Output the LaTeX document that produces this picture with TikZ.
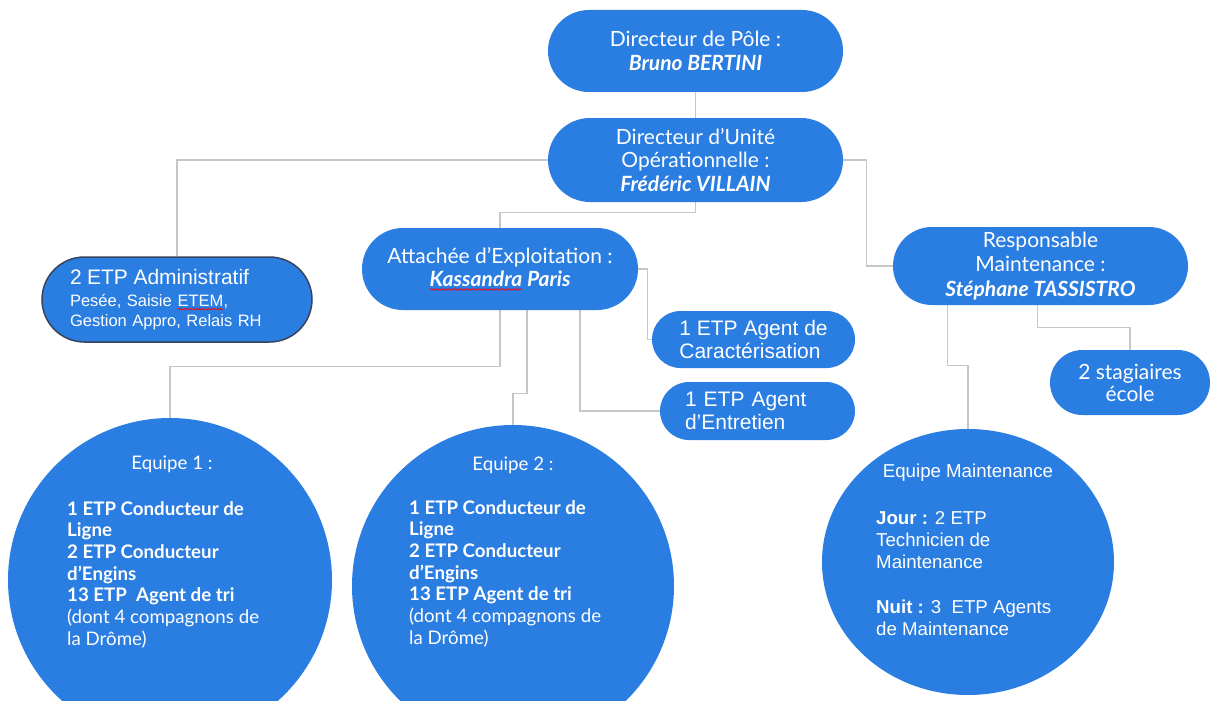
\documentclass[tikz,border=0pt]{standalone}
\usepackage{fontspec}
\setmainfont{Liberation Sans}
\newfontfamily\rob{Lato}
\usetikzlibrary{shapes.geometric,backgrounds,decorations.pathmorphing}
\definecolor{pblue}{RGB}{42,125,225}
\definecolor{lgray}{RGB}{198,198,198}
\definecolor{dborder}{RGB}{55,68,92}
\newcommand\spellerr[1]{\tikz[baseline=(sw.base)]{\node[shape=rectangle,minimum width=0pt,minimum height=0pt,text width=,align=none,fill=none,draw=none,inner sep=0pt,outer sep=0pt,sharp corners] (sw) {#1};\draw[red,line width=0.6pt,sharp corners,decorate,decoration={snake,amplitude=0.8pt,segment length=3pt}] ([yshift=-3pt]sw.base west) -- ([yshift=-3pt]sw.base east);}}
\tikzset{
  pill/.style={rectangle, fill=pblue, text=white, inner sep=0pt, align=center},
  conn/.style={draw=lgray, line width=1.3pt},
  rob/.style={font=\rob\fontsize{21}{23.5}\selectfont},
  ari/.style={font=\fontsize{21}{23}\selectfont},
  circtext/.style={text=white, font=\rob\fontsize{18.7}{21.7}\selectfont, inner sep=0pt},
  mtext/.style={text=white, font=\fontsize{18.67}{22}\selectfont, inner sep=0pt},
}
\begin{document}
\begin{tikzpicture}[x=1pt,y=-1pt]
\useasboundingbox (0,0) rectangle (1211,701);
% pills
\node[pill, rob, minimum width=295, minimum height=82, rounded corners=41] (pole) at (695.5,51) {Directeur de Pôle :\\\textbf{\textit{Bruno BERTINI}}};
\node[pill, rob, minimum width=295, minimum height=84, rounded corners=42] (unite) at (695.5,160) {Directeur d’Unité\\Opérationnelle :\\\textbf{\textit{Frédéric VILLAIN}}};
\node[pill, draw=dborder, line width=1.5pt, text width=214, align=left, minimum width=270, minimum height=85, rounded corners=42.5, font=\fontsize{16.5}{20.5}\selectfont] (admin) at (177,299.5) {{\fontsize{21}{20.5}\selectfont 2 ETP Administratif}\\[1.5pt]Pesée, Saisie \spellerr{ETEM},\\Gestion Appro, Relais RH};
\node[pill, rob, font=\rob\fontsize{21}{23}\selectfont, minimum width=276, minimum height=82, rounded corners=41] (attach) at (500,269) {Attachée d’Exploitation :\\\textbf{\textit{\spellerr{Kassandra} Paris}}};
\node[pill, rob, font=\rob\fontsize{21}{24.5}\selectfont, minimum width=295, minimum height=78, rounded corners=39] (resp) at (1040.5,266) {Responsable\\Maintenance :\\\textbf{\textit{Stéphane TASSISTRO}}};
\node[pill, ari, align=left, minimum width=203, minimum height=57, rounded corners=28.5] (caract) at (753.5,339.5) {1 ETP Agent de\\Caractérisation};
\node[pill, ari, text width=145, align=left, minimum width=195, minimum height=58, rounded corners=29] (entret) at (757.5,411) {1 ETP Agent\\d'Entretien};
\node[pill, rob, font=\rob\fontsize{21}{22}\selectfont, minimum width=160, minimum height=65, rounded corners=32.5] (stag) at (1130,382.5) {2 stagiaires\\école};
% circles
\node[circle, fill=pblue, minimum size=324, inner sep=0pt] (eq1) at (170,580) {};
\node[circle, fill=pblue, minimum size=322, inner sep=0pt] (eq2) at (513,586) {};
\node[ellipse, fill=pblue, minimum width=292, minimum height=266, inner sep=0pt] (maint) at (968,562) {};
% circle texts
\node[circtext] (eq1t) at (172,464) {Equipe 1 :};
\node[circtext, align=left, anchor=north west] (eq1b) at (67,501) {\textbf{1 ETP Conducteur de}\\\textbf{Ligne}\\\textbf{2 ETP Conducteur}\\\textbf{d’Engins}\\\textbf{13 ETP~ Agent de tri}\\(dont 4 compagnons de\\la Drôme)};
\node[circtext] (eq2t) at (513,465) {Equipe 2 :};
\node[circtext, align=left, anchor=north west] (eq2b) at (409,500) {\textbf{1 ETP Conducteur de}\\\textbf{Ligne}\\\textbf{2 ETP Conducteur}\\\textbf{d’Engins}\\\textbf{13 ETP Agent de tri}\\(dont 4 compagnons de\\la Drôme)};
\node[mtext] (maintt) at (968,473) {Equipe Maintenance};
\node[mtext, align=left, anchor=north west] (maintb) at (876,511) {\textbf{Jour :} 2 ETP\\Technicien de\\Maintenance\\[23pt]\textbf{Nuit :} 3~ ETP Agents\\de Maintenance};
% connectors
\begin{scope}[on background layer]
\draw[conn] (pole.south) -- (unite.north);
\draw[conn] (unite.west) -| (admin.north);
\draw[conn] (unite.south) -- ++(0,10) -| (attach.north);
\draw[conn] (unite.east) -- ++(23,0) |- (resp.west);
\draw[conn] (attach.east) -- ++(9,0) |- (caract.west);
\draw[conn] ([xshift=80pt]attach.south) |- (entret.west);
\draw[conn] ([xshift=27pt]attach.south) -- ++(0,83) -| (eq2.north);
\draw[conn] (attach.south) -- ++(0,56) -| (eq1.north);
\draw[conn] ([xshift=-3pt]resp.south) -- ++(0,22) -| (stag.north);
\draw[conn] ([xshift=-93pt]resp.south) -- ++(0,60) -| (maint.north);
\end{scope}
\end{tikzpicture}
\end{document}
